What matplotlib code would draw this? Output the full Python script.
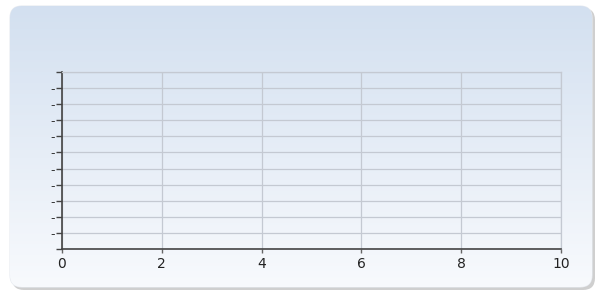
import numpy as np
import matplotlib
matplotlib.use("Agg")
import matplotlib.pyplot as plt
from matplotlib.patches import FancyBboxPatch

# axis setup
x_ticks = [0, 2, 4, 6, 8, 10]
y_ticks = list(range(0, 12))
y_labels = [""] + ["-"] * 10 + [""]

W, H = 598, 293
fig = plt.figure(figsize=(W / 100, H / 100), dpi=100)
fig.patch.set_facecolor("white")

# background panel with shadow and gradient
bg = fig.add_axes([0, 0, 1, 1])
bg.set_xlim(0, W)
bg.set_ylim(H, 0)
bg.axis("off")

shadow = FancyBboxPatch((12, 8), 583, 282, boxstyle="round,pad=0,rounding_size=12",
                        fc="#a0a0a0", ec="none", alpha=0.5)
bg.add_patch(shadow)
panel = FancyBboxPatch((10, 6), 582, 281, boxstyle="round,pad=0,rounding_size=12",
                       fc="none", ec="#e6eaf0", lw=0.8)
bg.add_patch(panel)
grad = np.linspace(0, 1, 256).reshape(-1, 1)
top = np.array([0.827, 0.878, 0.941])
bot = np.array([0.973, 0.980, 0.992])
img = top + (bot - top) * grad[..., None]
im = bg.imshow(img, extent=[10, 592, 287, 6], aspect="auto", zorder=1)
im.set_clip_path(panel)

# plotting area
ax = fig.add_axes([62 / W, 1 - 249 / H, (561 - 62) / W, (249 - 72) / H])
ax.patch.set_alpha(0)
ax.set_xlim(0, 10)
ax.set_ylim(0, 11)
ax.set_xticks(x_ticks)
ax.set_xticklabels([str(v) for v in x_ticks], fontsize=10, color="#222222")
ax.set_yticks(y_ticks)
ax.set_yticklabels(y_labels, fontsize=9, color="#333333")
ax.grid(True, color="#c4c9d2", lw=0.9)
ax.set_axisbelow(True)
for side in ["top", "right"]:
    ax.spines[side].set_color("#c4c9d2")
    ax.spines[side].set_linewidth(0.9)
for side in ["left", "bottom"]:
    ax.spines[side].set_color("#444444")
    ax.spines[side].set_linewidth(1.2)
ax.tick_params(axis="x", length=3, width=1, color="#666666", pad=3)
ax.tick_params(axis="y", length=4, width=1, color="#444444", pad=1)

fig.savefig("out.png", dpi=100)
